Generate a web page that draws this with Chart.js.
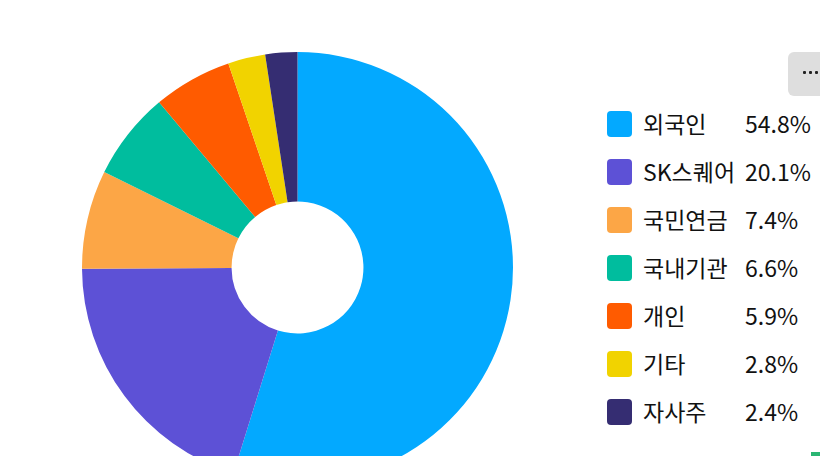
<!DOCTYPE html>
<html><head><meta charset="utf-8">
<script src="https://cdn.jsdelivr.net/npm/chart.js@4"></script>
<style>
html,body{margin:0;padding:0;width:820px;height:456px;overflow:hidden;background:#fff;font-family:"Noto Sans CJK KR","Noto Sans",sans-serif;}
#wrap{position:absolute;left:82px;top:52px;width:431px;height:431px;}
#legend{position:absolute;left:607px;top:111px;}
.row{position:absolute;left:0;height:26px;width:220px;}
.sw{position:absolute;left:0;top:0;width:25px;height:26px;border-radius:4px;}
.lb{position:absolute;left:36px;top:-4px;font-size:23px;line-height:32px;color:#111;white-space:nowrap;}
.vl{position:absolute;left:138px;top:-4px;font-size:23px;line-height:32px;color:#111;white-space:nowrap;}
#btn{position:absolute;left:788px;top:52px;width:50px;height:44px;background:#dedede;border-radius:6px;}
.dot{position:absolute;top:19px;width:3px;height:3px;background:#222;border-radius:1px;}
#gr{position:absolute;left:811px;top:452px;width:12px;height:6px;background:#2bb673;}
</style></head>
<body>
<div id="wrap"><canvas id="c" width="431" height="431"></canvas></div>
<div id="legend"></div>
<div id="btn"><div class="dot" style="left:15px"></div><div class="dot" style="left:21px"></div><div class="dot" style="left:27px"></div></div>
<div id="gr"></div>
<script>
const categories = ["외국인","SK스퀘어","국민연금","국내기관","개인","기타","자사주"];
const shares = [54.8, 20.1, 7.4, 6.6, 5.9, 2.8, 2.4];
const colors = ["#03a9ff","#5d51d6","#fca646","#00bd9e","#ff5b00","#f1d300","#352d72"];

const leg = document.getElementById('legend');
categories.forEach((c,i)=>{
  const r = document.createElement('div');
  r.className='row'; r.style.top=(i*48)+'px';
  r.innerHTML = '<div class="sw" style="background:'+colors[i]+'"></div><div class="lb">'+c+'</div><div class="vl">'+shares[i].toFixed(1)+'%</div>';
  leg.appendChild(r);
});

new Chart(document.getElementById('c'), {
  type:'doughnut',
  data:{labels:categories, datasets:[{data:shares, backgroundColor:colors, borderWidth:0}]},
  options:{
    responsive:false, animation:false, devicePixelRatio:1,
    cutout:'30.6%',
    layout:{padding:0},
    plugins:{legend:{display:false}, tooltip:{enabled:false}}
  }
});
</script>
</body></html>
